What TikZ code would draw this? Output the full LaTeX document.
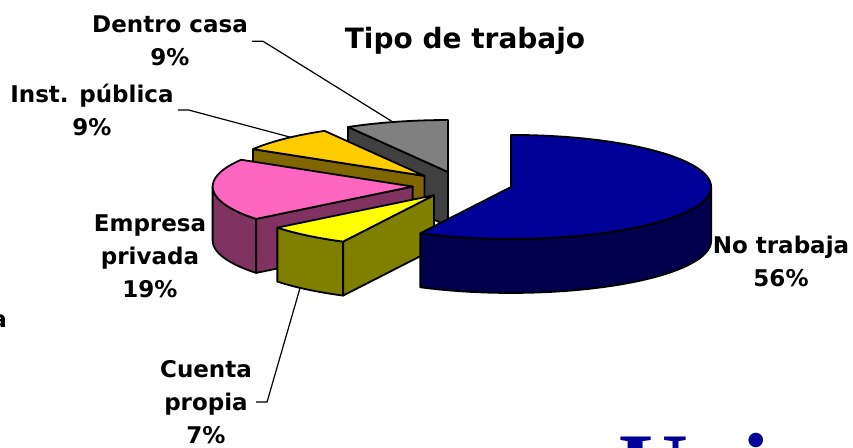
\documentclass[tikz,border=0pt]{standalone}
\usepackage{fontspec}
\setmainfont{DejaVu Sans}
\newfontfamily\bigserif{Liberation Serif}[BoldFont={Liberation Serif Bold}]
\usetikzlibrary{calc}

\definecolor{noTop}{RGB}{0,0,153}
\definecolor{noSide}{RGB}{0,0,77}
\definecolor{cuTop}{RGB}{255,255,0}
\definecolor{cuSide}{RGB}{128,128,0}
\definecolor{emTop}{RGB}{255,102,192}
\definecolor{emSide}{RGB}{128,51,96}
\definecolor{inTop}{RGB}{255,204,0}
\definecolor{inSide}{RGB}{128,102,0}
\definecolor{deTop}{RGB}{128,128,128}
\definecolor{deSide}{RGB}{64,64,64}
\definecolor{uniBlue}{RGB}{0,0,153}

\tikzset{
  slice/.style={draw=black, line width=1.8pt, line join=round},
  lbl/.style={font=\bfseries\fontsize{23}{33}\selectfont, align=center, inner sep=0pt, anchor=north},
  leader/.style={draw=black, line width=1.2pt},
}

\begin{document}
\begin{tikzpicture}[x=1pt, y=-1pt]
  \clip (0,0) rectangle (853,447);
  \coordinate (c) at (462,184.5);
  % each slice pushed out along its middle angle
  \coordinate (pB) at ($(c)+(10.8:50 and 13)$);
  \coordinate (pY) at ($(c)+(124.2:50 and 13)$);
  \coordinate (pP) at ($(c)+(171:50 and 13)$);
  \coordinate (pI) at ($(c)+(221.4:50 and 13)$);
  \coordinate (pG) at ($(c)+(253.8:50 and 13)$);

  % Dentro casa
  \filldraw[slice, fill=deSide] (pG) -- ($(pG)+(240:200 and 52)$) -- ++(0,54) -- ($(pG)+(0,54)$) -- cycle;
  \filldraw[slice, fill=deTop] (pG) -- ($(pG)+(240:200 and 52)$) arc[start angle=240, end angle=270, x radius=200, y radius=52] -- cycle;

  % Inst. publica
  \filldraw[slice, fill=inSide] (pI) -- ($(pI)+(211:200 and 52)$) -- ++(0,54) -- ($(pI)+(0,54)$) -- cycle;
  \filldraw[slice, fill=inTop] (pI) -- ($(pI)+(211:200 and 52)$) arc[start angle=211, end angle=240, x radius=200, y radius=52] -- cycle;

  % Empresa privada
  \filldraw[slice, fill=emSide] ($(pP)+(141.5:200 and 52)$) arc[start angle=141.5, end angle=180, x radius=200, y radius=52] -- ++(0,54) arc[start angle=180, end angle=141.5, x radius=200, y radius=52] -- cycle;
  \filldraw[slice, fill=emSide] (pP) -- ($(pP)+(141.5:200 and 52)$) -- ++(0,54) -- ($(pP)+(0,54)$) -- cycle;
  \filldraw[slice, fill=emTop] (pP) -- ($(pP)+(141.5:200 and 52)$) arc[start angle=141.5, end angle=211, x radius=200, y radius=52] -- cycle;

  % Cuenta propia
  \filldraw[slice, fill=cuSide] ($(pY)+(117:200 and 52)$) arc[start angle=117, end angle=141.5, x radius=200, y radius=52] -- ++(0,54) arc[start angle=141.5, end angle=117, x radius=200, y radius=52] -- cycle;
  \filldraw[slice, fill=cuSide] (pY) -- ($(pY)+(117:200 and 52)$) -- ++(0,54) -- ($(pY)+(0,54)$) -- cycle;
  \filldraw[slice, fill=cuTop] (pY) -- ($(pY)+(117:200 and 52)$) arc[start angle=117, end angle=141.5, x radius=200, y radius=52] -- cycle;

  % No trabaja
  \filldraw[slice, fill=noSide] ($(pB)+(0:200 and 52)$) arc[start angle=0, end angle=117, x radius=200, y radius=52] -- ++(0,54) arc[start angle=117, end angle=0, x radius=200, y radius=52] -- cycle;
  \filldraw[slice, fill=noTop] (pB) -- ($(pB)+(-90:200 and 52)$) arc[start angle=-90, end angle=117, x radius=200, y radius=52] -- cycle;

  % labels
  \node[font=\bfseries\fontsize{28}{28}\selectfont, anchor=base] (titulo) at (465,48) {Tipo de trabajo};
  \node[lbl] (dentro) at (170,16) {Dentro casa\\9\%};
  \node[lbl] (inst) at (92,84) {Inst. pública\\9\%};
  \node[lbl] (empresa) at (150,215) {Empresa\\privada\\19\%};
  \node[lbl] (cuenta) at (206,360) {Cuenta\\propia\\7\%};
  \node[lbl] (notrab) at (781,235.5) {No trabaja\\56\%};

  \coordinate (deEnd) at ($(pG)+(254:200 and 52)$);
  \coordinate (inEnd) at ($(pI)+(228:200 and 52)$);
  \coordinate (cuEnd) at ($(pY)+(132:200 and 52)+(0,54)$);
  \draw[leader] ([xshift=4pt]dentro.east) -- ++(11,0) -- (deEnd);
  \draw[leader] ([xshift=4pt]inst.east) -- ++(11,0) -- (inEnd);
  \draw[leader] ([xshift=4pt]cuenta.east) -- ++(11,0) -- (cuEnd);

  % text cut off at the edges
  \node[font=\bfseries\fontsize{23}{33}\selectfont, anchor=base east, inner sep=0pt] (cutA) at (7,327) {a};
  \node[font=\bigserif\bfseries\fontsize{97}{97}\selectfont, text=uniBlue, anchor=base west, inner sep=0pt] (uni) at (618,500) {Uni};
\end{tikzpicture}
\end{document}
